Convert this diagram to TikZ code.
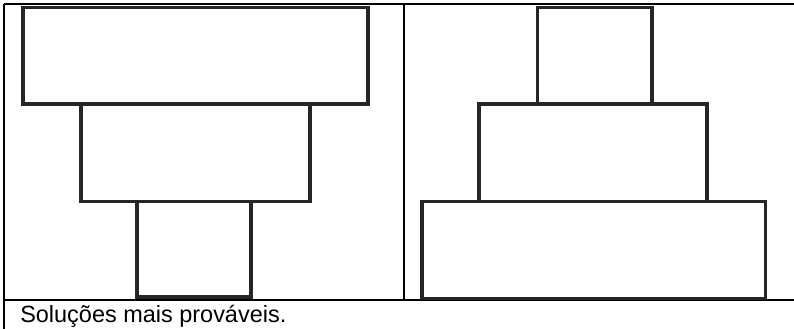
\documentclass[tikz,border=0pt]{standalone}
\usepackage{fontspec}
\setmainfont{Liberation Sans}
\begin{document}
\begin{tikzpicture}[
  x=0.75pt, y=-0.75pt,
  grade/.style={line width=1.7pt, draw=black},
  bloco/.style={line width=2.4pt, draw=black!85},
  legenda/.style={anchor=base west, inner sep=0pt, font=\fontsize{17.6}{21}\selectfont},
]
  \useasboundingbox (0,0) rectangle (794,329);

  % tabela
  \draw[grade] (4,4) -- (794,4);
  \draw[grade] (4,300) -- (794,300);
  \draw[grade] (4,4) -- (4,329);
  \draw[grade] (404,4) -- (404,300);

  % pilha invertida
  \draw[bloco] (23,7.5)   rectangle (368,104);
  \draw[bloco] (81,104)   rectangle (310,201.5);
  \draw[bloco] (137,201.5) rectangle (251,297);

  % pilha normal
  \draw[bloco] (537.5,7.5) rectangle (652,104);
  \draw[bloco] (479,104)   rectangle (707,201.5);
  \draw[bloco] (422,201.5) rectangle (765.5,298.5);

  \node[legenda] (leg) at (20,322.7) {Soluções mais prováveis.};
\end{tikzpicture}
\end{document}
